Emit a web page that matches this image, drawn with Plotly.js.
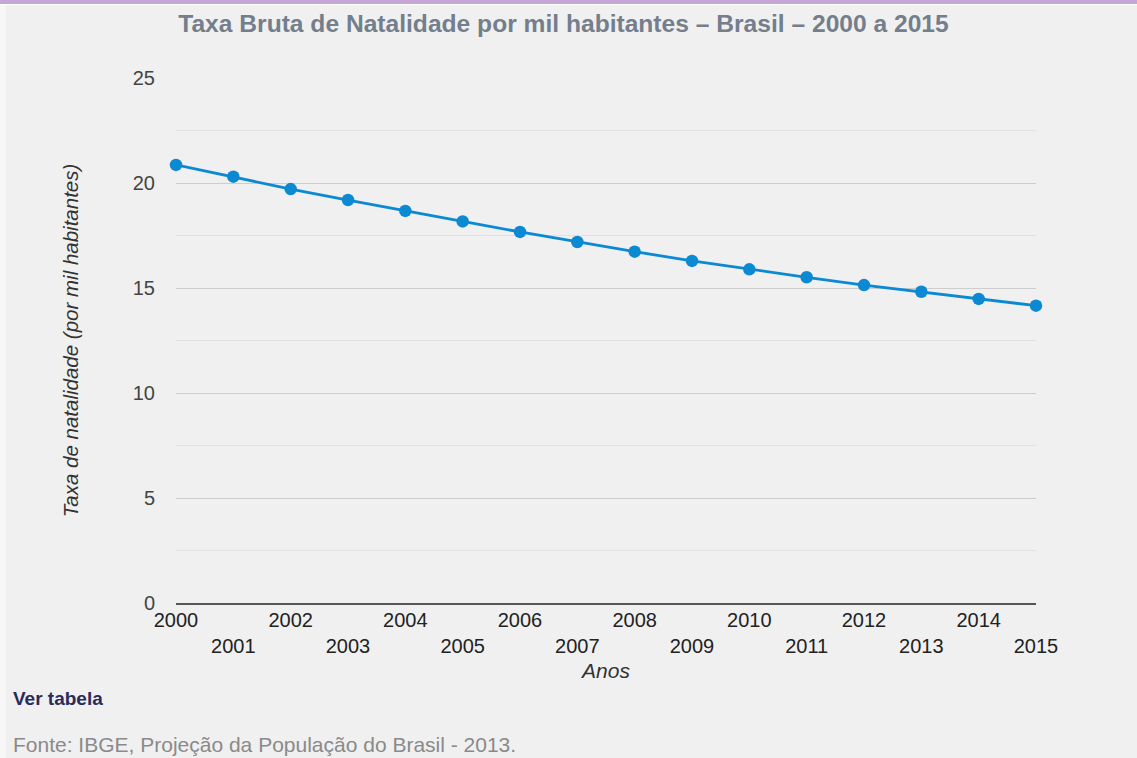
<!DOCTYPE html>
<html>
<head>
<meta charset="utf-8">
<script src="https://cdn.plot.ly/plotly-3.0.1.min.js"></script>
<style>
html,body{margin:0;padding:0;background:#f0f0f0;}
#chart{width:1137px;height:758px;}
</style>
</head>
<body>
<div id="chart"></div>
<script>
const years = [2000,2001,2002,2003,2004,2005,2006,2007,2008,2009,2010,2011,2012,2013,2014,2015];
const birthRate = [20.86,20.30,19.71,19.19,18.67,18.17,17.67,17.19,16.73,16.29,15.89,15.51,15.14,14.82,14.48,14.16];
const yTicks = [0,5,10,15,20,25];
const titleText = "Taxa Bruta de Natalidade por mil habitantes – Brasil – 2000 a 2015";
const yTitle = "Taxa de natalidade (por mil habitantes)";
const xTitle = "Anos";
const linkText = "Ver tabela";
const sourceText = "Fonte: IBGE, Projeção da População do Brasil - 2013.";

const W = 1137, H = 758;
const M = {l:176, r:101, t:78, b:155};
const PW = W - M.l - M.r, PH = H - M.t - M.b;
const px = x => (x - M.l) / PW;
const py = y => (H - M.b - y) / PH;

const tickText = years.map((y,i) => i % 2 === 0 ? String(y) : " <br>" + y);

const FONT = "Arial, 'Liberation Sans', sans-serif";

const trace = {
  x: years, y: birthRate, type: 'scatter', mode: 'lines+markers',
  line: {color:'#0b89d3', width:2.8},
  marker: {color:'#0b89d3', size:12.5},
  cliponaxis: false, hoverinfo:'x+y'
};

const layout = {
  width: W, height: H,
  margin: M,
  paper_bgcolor: '#f0f0f0', plot_bgcolor: '#f0f0f0',
  showlegend: false,
  font: {family: FONT, color:'#333'},
  title: {text: '<b>' + titleText + '</b>', x: 0.4956, xanchor:'center', y: 1 - 23/H, yanchor:'middle',
          font: {family: FONT, size: 24.6, color:'#747e8c'}},
  xaxis: {
    range: [years[0], years[years.length-1]],
    tickvals: years, ticktext: tickText,
    tickfont: {family: FONT, size: 20, color:'#222'},
    showgrid: false, zeroline: false,
    showline: true, linecolor:'#555', linewidth: 1.5,
    ticks: '', ticklabelstandoff: -2,
    title: {text: '<i>' + xTitle + '</i>', font: {family: FONT, size: 21, color:'#333'}, standoff: 8},
    fixedrange: true
  },
  yaxis: {
    range: [0, 25], tickvals: yTicks,
    tickfont: {family: FONT, size: 20, color:'#444'},
    showgrid: true, gridcolor:'#cdcdcd', gridwidth: 1,
    minor: {dtick: 2.5, showgrid: true, gridcolor:'#e2e2e2', gridwidth: 1},
    zeroline: false, showline: false, ticks: '',
    ticklabelstandoff: 20,
    title: {text: '<i>' + yTitle + '</i>', font: {family: FONT, size: 20.5, color:'#333'}, standoff: 48},
    fixedrange: true
  },
  shapes: [
    {type:'rect', xref:'paper', yref:'paper', x0: px(0), x1: px(W), y0: py(4), y1: py(0),
     fillcolor:'#c6a6d6', line:{width:0}, layer:'above'},
    {type:'rect', xref:'paper', yref:'paper', x0: px(0), x1: px(W), y0: py(5), y1: py(4),
     fillcolor:'#ffffff', line:{width:0}, layer:'above'},
    {type:'rect', xref:'paper', yref:'paper', x0: px(0), x1: px(6), y0: py(H), y1: py(5),
     fillcolor:'#f7f7f7', line:{width:0}, layer:'below'}
  ],
  annotations: [
    {text: '<b>' + linkText + '</b>', xref:'paper', yref:'paper', x: px(11), y: py(698),
     xanchor:'left', yanchor:'middle', showarrow:false,
     font:{family: FONT, size: 19, color:'#2b2b5a'}},
    {text: sourceText, xref:'paper', yref:'paper', x: px(11), y: py(744),
     xanchor:'left', yanchor:'middle', showarrow:false,
     font:{family: FONT, size: 21, color:'#8a8a8a'}}
  ]
};

Plotly.newPlot('chart', [trace], layout, {displayModeBar:false});
</script>
</body>
</html>
